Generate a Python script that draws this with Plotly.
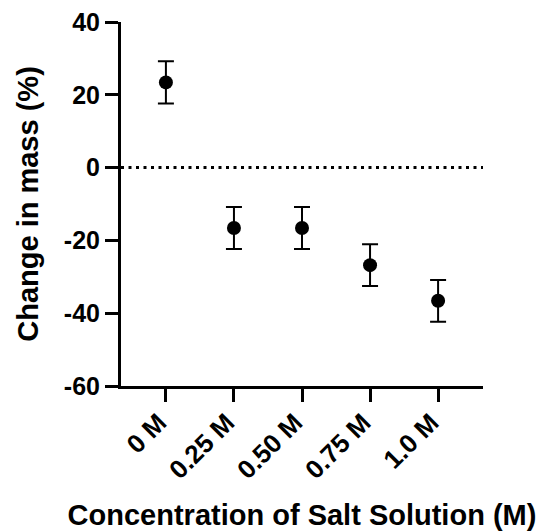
import plotly.graph_objects as go

categories = ["0 M", "0.25 M", "0.50 M", "0.75 M", "1.0 M"]
mass_change = [23.4, -16.6, -16.6, -26.8, -36.6]
error = [5.8, 5.75, 5.75, 5.75, 5.75]
y_ticks = [-60, -40, -20, 0, 20, 40]

FONT = "Liberation Sans, Arial, sans-serif"

fig = go.Figure()
fig.add_trace(go.Scatter(
    x=list(range(len(categories))),
    y=mass_change,
    mode="markers",
    marker=dict(color="black", size=14, symbol="circle"),
    error_y=dict(type="data", array=error, visible=True,
                 color="black", thickness=2, width=8),
    showlegend=False,
))

fig.add_shape(type="line", xref="paper", yref="y", x0=0, x1=1, y0=0, y1=0,
              line=dict(color="black", width=3, dash="3px,4.5px"), layer="below")

fig.update_layout(
    width=540, height=531,
    margin=dict(l=121, r=57, t=22, b=145),
    plot_bgcolor="white", paper_bgcolor="white",
    font=dict(family=FONT, color="black"),
)

fig.update_xaxes(
    range=[-0.66, 4.66],
    tickmode="array",
    tickvals=list(range(len(categories))),
    ticktext=["<b>%s</b>" % c for c in categories],
    tickangle=-45,
    tickfont=dict(size=26, family=FONT, color="black"),
    showline=True, linecolor="black", linewidth=3,
    ticks="outside", ticklen=13, tickwidth=3, tickcolor="black",
    showgrid=False, zeroline=False,
    ticklabeloverflow="allow",
    ticklabelshift=-7,
    ticklabelstandoff=-5,
    title=dict(text="<b>Concentration of Salt Solution (M)</b>",
               font=dict(size=29, family=FONT, color="black"), standoff=29),
    automargin=False,
)

fig.update_yaxes(
    range=[-60, 40],
    tickmode="array",
    tickvals=y_ticks,
    ticktext=["<b>%d</b>" % v for v in y_ticks],
    tickfont=dict(size=25, family=FONT, color="black"),
    showline=True, linecolor="black", linewidth=3,
    ticks="outside", ticklen=13, tickwidth=3, tickcolor="black",
    showgrid=False, zeroline=False,
    ticklabeloverflow="allow",
    title=dict(text="<b>Change in mass (%)</b>",
               font=dict(size=29, family=FONT, color="black"), standoff=17),
    automargin=False,
)

fig.write_html(
    "out.html",
    config={"displayModeBar": False},
    post_script="document.body.style.margin='0';document.body.style.overflow='hidden';",
)
